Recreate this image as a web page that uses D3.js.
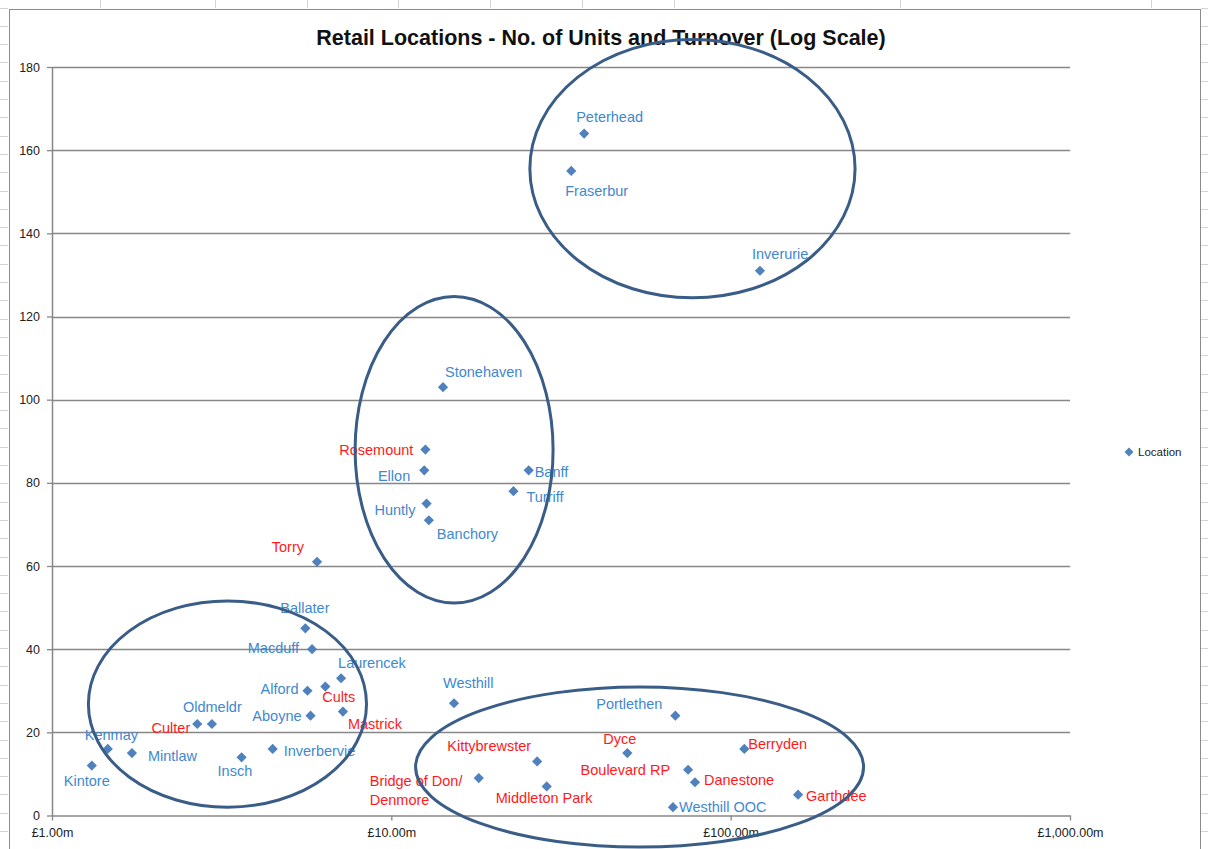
<!DOCTYPE html>
<html>
<head>
<meta charset="utf-8">
<script src="https://cdn.jsdelivr.net/npm/d3@7"></script>
<style>
  html, body { margin: 0; padding: 0; background: #fff; }
  svg { display: block; }
  text { font-family: "Liberation Sans", Arial, sans-serif; }
</style>
</head>
<body>
<svg id="chart"></svg>
<script>
// data
const names = ['Peterhead', 'Fraserbur', 'Inverurie', 'Stonehaven', 'Rosemount', 'Ellon', 'Banff', 'Turriff',
	'Huntly', 'Banchory', 'Torry', 'Ballater', 'Macduff', 'Laurencek', 'Alford', 'Cults', 'Mastrick', 'Aboyne',
	'Oldmeldr', 'Culter', 'Kenmay', 'Mintlaw', 'Kintore', 'Insch', 'Inverbervie', 'Westhill', 'Portlethen',
	'Kittybrewster', 'Bridge of Don/\nDenmore', 'Middleton Park', 'Dyce', 'Boulevard RP', 'Danestone',
	'Westhill OOC', 'Berryden', 'Garthdee'];
const turnover = [37.0, 33.9, 122, 14.2, 12.6, 12.5, 25.4, 22.9,
	12.7, 12.9, 6.04, 5.58, 5.84, 7.11, 5.66, 6.39, 7.2, 5.78,
	2.96, 2.68, 1.46, 1.72, 1.31, 3.62, 4.47, 15.3, 68.7,
	26.9, 18.1, 28.7, 49.6, 74.9, 78.5,
	67.6, 109.7, 158];
const units = [164, 155, 131, 103, 88, 83, 83, 78,
	75, 71, 61, 45, 40, 33, 30, 31, 25, 24,
	22, 22, 16, 15, 12, 14, 16, 27, 24,
	13, 9, 7, 15, 11, 8,
	2, 16, 5];
const cityLocations = ['Rosemount', 'Torry', 'Cults', 'Mastrick', 'Culter', 'Kittybrewster', 'Bridge of Don/\nDenmore',
	'Middleton Park', 'Dyce', 'Boulevard RP', 'Danestone', 'Berryden', 'Garthdee'];
const xTicks = [1, 10, 100, 1000];
const yTicks = d3.range(0, 181, 20);

// hand-drawn groupings, bounding boxes in data units [x0, x1, y0, y1]
const groups = [
	[25.6, 232.6, 124.5, 186.6],
	[7.82, 29.97, 51.1, 124.8],
	[1.28, 8.45, 2.0, 51.6],
	[11.79, 246.4, -7.6, 30.9],
];

// label placement [dx, dy, anchor]
const labelPlace = {
	'Peterhead': [-8, -12, 'start'], 'Fraserbur': [-6, 25, 'start'], 'Inverurie': [-8, -12, 'start'],
	'Stonehaven': [2, -10, 'start'], 'Rosemount': [-12, 5, 'end'], 'Ellon': [-14, 11, 'end'],
	'Banff': [6, 7, 'start'], 'Turriff': [13, 11, 'start'], 'Huntly': [-11, 11, 'end'],
	'Banchory': [8, 19, 'start'], 'Torry': [-13, -10, 'end'], 'Ballater': [-25, -15, 'start'],
	'Macduff': [-13, 4, 'end'], 'Laurencek': [-3, -10, 'start'], 'Alford': [-9, 3, 'end'],
	'Cults': [-3, 15, 'start'], 'Mastrick': [5, 17, 'start'], 'Aboyne': [-9, 5, 'end'],
	'Oldmeldr': [-29, -12, 'start'], 'Culter': [-7, 9, 'end'], 'Kenmay': [-23, -9, 'start'],
	'Mintlaw': [16, 8, 'start'], 'Kintore': [-28, 20, 'start'], 'Insch': [-24, 19, 'start'],
	'Inverbervie': [11, 7, 'start'], 'Westhill': [-11, -15, 'start'], 'Portlethen': [-13, -7, 'end'],
	'Kittybrewster': [-6, -10, 'end'], 'Bridge of Don/\nDenmore': [-109, 8, 'start'],
	'Middleton Park': [-51, 17, 'start'], 'Dyce': [-24, -9, 'start'], 'Boulevard RP': [-18, 5, 'end'],
	'Danestone': [9, 3, 'start'], 'Westhill OOC': [6, 5, 'start'], 'Berryden': [4, 0, 'start'],
	'Garthdee': [8, 6, 'start'],
};

const WIDTH = 1208;
const HEIGHT = 849;
const PLOT = { left: 52, right: 1070, top: 67, bottom: 815.5 };
const GRID = '#878787';
const MARKER = '#4F81BD';
const BLUE_TEXT = '#3F88D0';
const RED_TEXT = '#FF1A1A';

const svg = d3.select('#chart').attr('width', WIDTH).attr('height', HEIGHT);

svg.append('rect').attr('width', WIDTH).attr('height', HEIGHT).attr('fill', '#fff');

// spreadsheet cells peeking around the chart
const sheet = svg.append('g').attr('stroke', '#d4d4d4').attr('stroke-width', 1);
sheet.selectAll('line.row-l')
	.data(d3.range(7.5, HEIGHT, 18.3))
	.enter()
	.append('line')
	.attr('x1', 0).attr('x2', 8)
	.attr('y1', (d) => Math.round(d) + 0.5).attr('y2', (d) => Math.round(d) + 0.5);
sheet.selectAll('line.row-r')
	.data(d3.range(7.5, HEIGHT, 18.3))
	.enter()
	.append('line')
	.attr('x1', 1201).attr('x2', WIDTH)
	.attr('y1', (d) => Math.round(d) + 0.5).attr('y2', (d) => Math.round(d) + 0.5);
sheet.selectAll('line.col')
	.data([100, 215, 307, 398, 490, 582, 674, 900, 1151])
	.enter()
	.append('line')
	.attr('x1', (d) => d + 0.5).attr('x2', (d) => d + 0.5)
	.attr('y1', 0).attr('y2', 8);

// chart frame
svg.append('rect')
	.attr('x', 9.5).attr('y', 9.5)
	.attr('width', 1191).attr('height', HEIGHT + 10)
	.attr('fill', '#fff')
	.attr('stroke', '#8c8c8c');

const x = d3.scaleLog().domain([1, 1000]).range([PLOT.left, PLOT.right]);
const y = d3.scaleLinear().domain([0, 180]).range([PLOT.bottom, PLOT.top]);

// title
svg.append('text')
	.attr('x', 601)
	.attr('y', 45)
	.attr('text-anchor', 'middle')
	.attr('font-size', 21.5)
	.attr('font-weight', 'bold')
	.attr('fill', '#111')
	.text('Retail Locations - No. of Units and Turnover (Log Scale)');

// gridlines
svg.append('g')
	.selectAll('line')
	.data(yTicks.filter((t) => t > 0))
	.enter()
	.append('line')
	.attr('x1', PLOT.left).attr('x2', PLOT.right)
	.attr('y1', (d) => Math.round(y(d)) + 0.5).attr('y2', (d) => Math.round(y(d)) + 0.5)
	.attr('stroke', GRID)
	.attr('stroke-width', 1.3);

// y axis
const yAxis = svg.append('g')
	.attr('transform', `translate(${PLOT.left},0)`)
	.call(d3.axisLeft(y).tickValues(yTicks).tickSize(5).tickSizeOuter(0).tickPadding(7));
yAxis.select('.domain').attr('stroke', GRID).attr('stroke-width', 1.5);
yAxis.selectAll('.tick line').attr('stroke', GRID).attr('stroke-width', 1.3);
yAxis.selectAll('.tick text')
	.attr('font-family', '"Liberation Sans", Arial, sans-serif')
	.attr('font-size', 12.5)
	.attr('fill', '#222');

// x axis
const xAxis = svg.append('g')
	.attr('transform', `translate(0,${PLOT.bottom})`)
	.call(d3.axisBottom(x).tickValues(xTicks).tickSize(5).tickSizeOuter(0).tickPadding(8)
		.tickFormat((d) => '£' + d3.format(',.2f')(d) + 'm'));
xAxis.select('.domain').attr('stroke', GRID).attr('stroke-width', 1.5);
xAxis.selectAll('.tick line').attr('stroke', GRID).attr('stroke-width', 1.3);
xAxis.selectAll('.tick text')
	.attr('font-family', '"Liberation Sans", Arial, sans-serif')
	.attr('font-size', 12.5)
	.attr('fill', '#222');

// points
const points = names.map((name, i) => ({ name, turnover: turnover[i], units: units[i] }));
const diamond = d3.symbol(d3.symbolSquare, 52);

svg.append('g')
	.selectAll('path')
	.data(points)
	.enter()
	.append('path')
	.attr('d', diamond)
	.attr('transform', (d) => `translate(${x(d.turnover)},${y(d.units)}) rotate(45)`)
	.attr('fill', MARKER);

// data labels
const labels = svg.append('g')
	.selectAll('text')
	.data(points)
	.enter()
	.append('text')
	.attr('x', (d) => x(d.turnover) + labelPlace[d.name][0])
	.attr('y', (d) => y(d.units) + labelPlace[d.name][1])
	.attr('text-anchor', (d) => labelPlace[d.name][2])
	.attr('font-size', 14.5)
	.attr('fill', (d) => (cityLocations.includes(d.name) ? RED_TEXT : BLUE_TEXT));

labels.each(function (d) {
	const lines = d.name.split('\n');
	const sel = d3.select(this);
	lines.forEach((line, i) => {
		sel.append('tspan')
			.attr('x', x(d.turnover) + labelPlace[d.name][0])
			.attr('dy', i === 0 ? 0 : 19)
			.text(line);
	});
});

// groupings
svg.append('g')
	.selectAll('ellipse')
	.data(groups)
	.enter()
	.append('ellipse')
	.attr('cx', (d) => (x(d[0]) + x(d[1])) / 2)
	.attr('cy', (d) => (y(d[2]) + y(d[3])) / 2)
	.attr('rx', (d) => (x(d[1]) - x(d[0])) / 2)
	.attr('ry', (d) => (y(d[2]) - y(d[3])) / 2)
	.attr('fill', 'none')
	.attr('stroke', '#3A5D88')
	.attr('stroke-width', 3);

// legend
const legend = svg.append('g').attr('transform', 'translate(1129,452)');
legend.append('path')
	.attr('d', d3.symbol(d3.symbolSquare, 40))
	.attr('transform', 'rotate(45)')
	.attr('fill', MARKER);
legend.append('text')
	.attr('x', 9)
	.attr('y', 4)
	.attr('font-size', 11.5)
	.attr('fill', '#222')
	.text('Location');
</script>
</body>
</html>
